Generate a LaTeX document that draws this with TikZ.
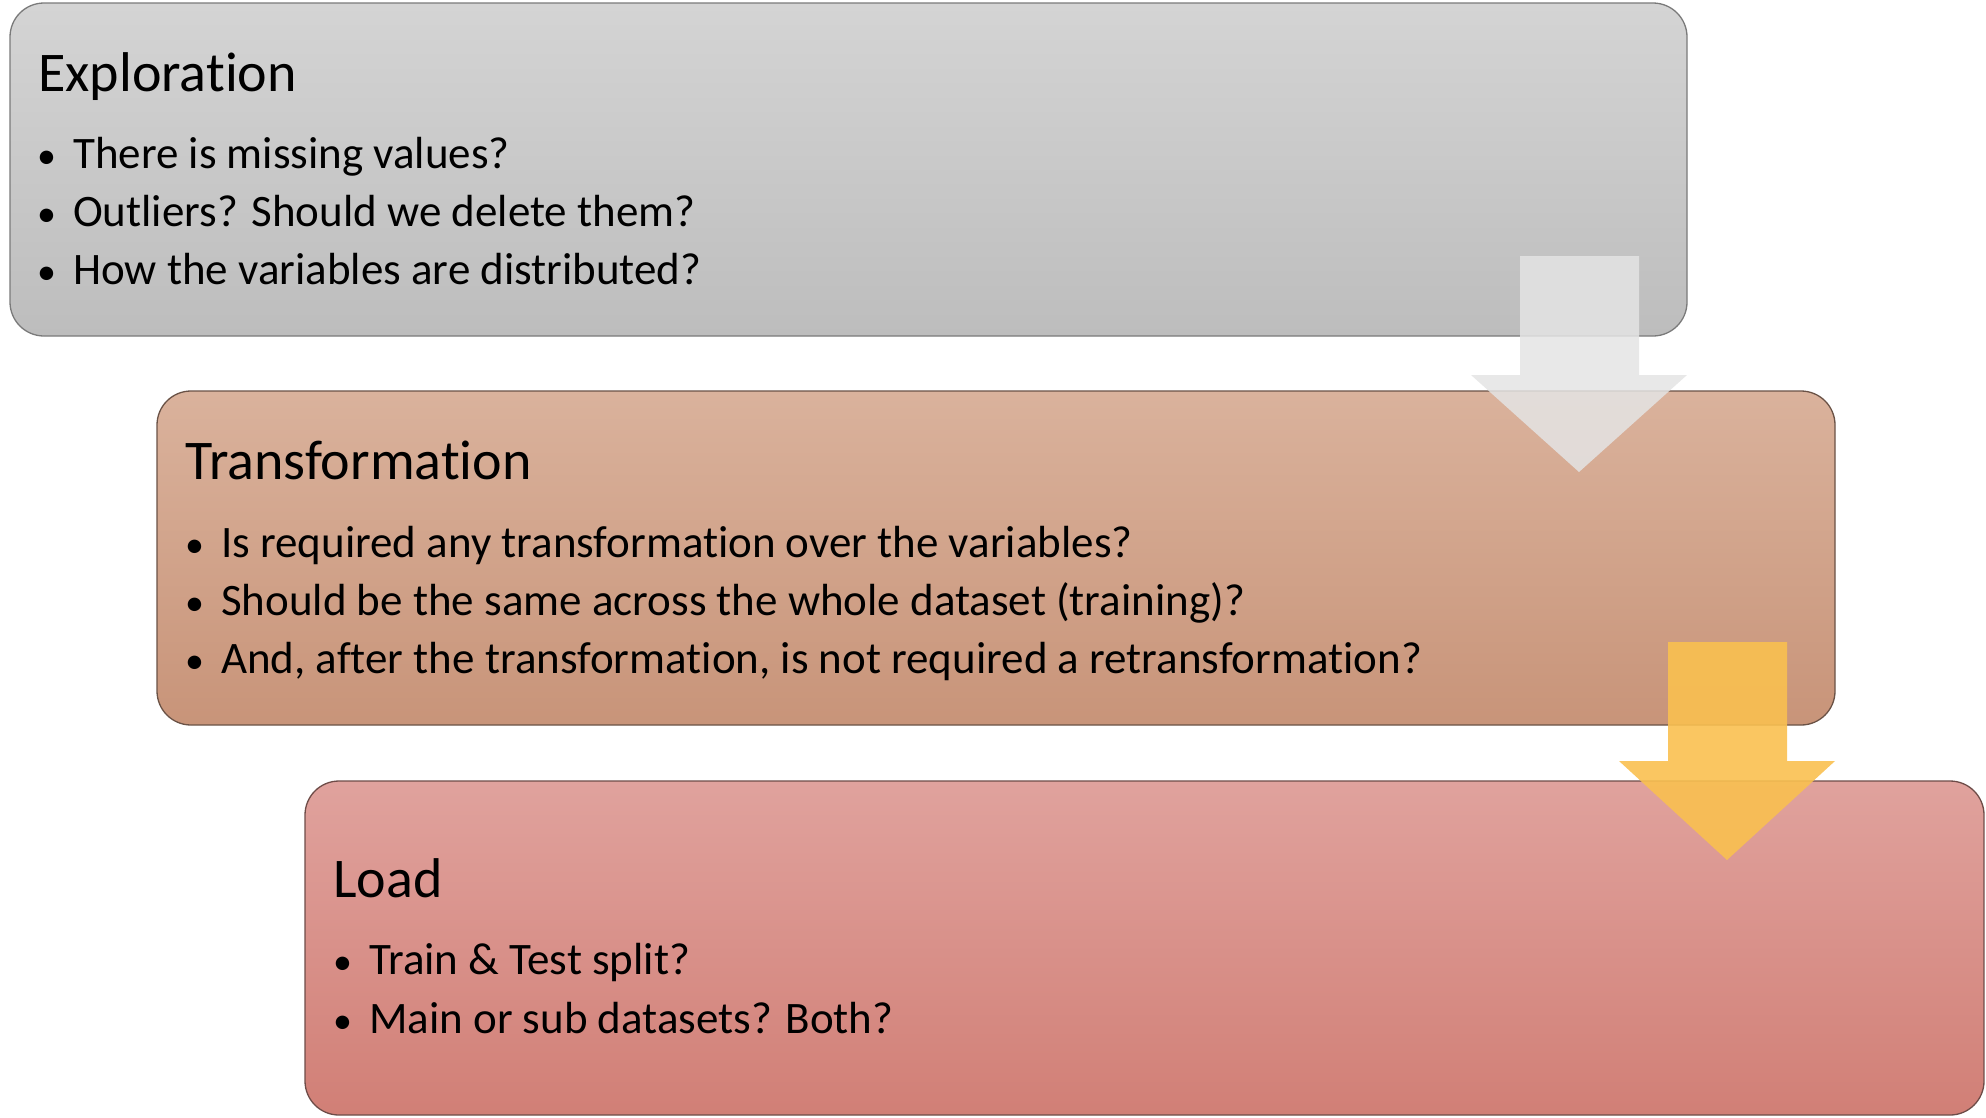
\documentclass[tikz,border=0pt]{standalone}
\usepackage{fontspec}
\setmainfont[Ligatures={NoCommon}]{Carlito}
\definecolor{gTop}{HTML}{D4D4D4}
\definecolor{gBot}{HTML}{BDBDBD}
\definecolor{gLine}{HTML}{7A7A7A}
\definecolor{tTop}{HTML}{DAB29C}
\definecolor{tBot}{HTML}{C89479}
\definecolor{tLine}{HTML}{6A5246}
\definecolor{lTop}{HTML}{E0A29D}
\definecolor{lBot}{HTML}{D17F76}
\definecolor{lLine}{HTML}{6E4C48}
\definecolor{arrGray}{HTML}{E4E4E4}
\definecolor{arrOrange}{HTML}{F9C050}
\tikzset{
  stagebox/.style={rounded corners=34pt, line width=1.3pt},
  headtext/.style={anchor=base west, inner sep=0pt, font=\fontsize{56}{64}\selectfont, text=black},
  bullettext/.style={anchor=base west, inner sep=0pt, font=\fontsize{45}{54}\selectfont, text=black},
  grayarrow/.style={fill=arrGray, fill opacity=0.85, draw=none},
  orangearrow/.style={fill=arrOrange, fill opacity=0.9, draw=none}
}
\newcommand{\bul}{\makebox[36pt][l]{\fontsize{38}{40}\selectfont\textbullet}}
\begin{document}
\begin{tikzpicture}[x=1pt,y=-1pt]
\useasboundingbox (0,0) rectangle (1986,1117);
% boxes
\path[stagebox, draw=gLine, top color=gTop, bottom color=gBot] (10,3) rectangle (1687,336);
\path[stagebox, draw=tLine, top color=tTop, bottom color=tBot] (157,391) rectangle (1835,725);
\path[stagebox, draw=lLine, top color=lTop, bottom color=lBot] (305,781) rectangle (1984,1115);
% box 1 text
\node[headtext] (h1) at (38,91) {Exploration};
\node[bullettext] (b11) at (37,168) {\bul There is missing values?};
\node[bullettext] (b12) at (37,226) {\bul Outliers? Should we delete them?};
\node[bullettext] (b13) at (37,284) {\bul How the variables are distributed?};
% box 2 text
\node[headtext] (h2) at (185,479) {Transformation};
\node[bullettext] (b21) at (185,557) {\bul Is required any transformation over the variables?};
\node[bullettext] (b22) at (185,615) {\bul Should be the same across the whole dataset (training)?};
\node[bullettext] (b23) at (185,673) {\bul And, after the transformation, is not required a retransformation?};
% box 3 text
\node[headtext] (h3) at (333,897) {Load};
\node[bullettext] (b31) at (333,974) {\bul Train \& Test split?};
\node[bullettext] (b32) at (333,1033) {\bul Main or sub datasets? Both?};
% arrows
\path[grayarrow] (1520,256) -- (1639,256) -- (1639,375) -- (1687,375) -- (1579,472) -- (1471,375) -- (1520,375) -- cycle;
\path[orangearrow] (1668,642) -- (1787,642) -- (1787,761) -- (1835,761) -- (1727,860) -- (1619,761) -- (1668,761) -- cycle;
\end{tikzpicture}
\end{document}
